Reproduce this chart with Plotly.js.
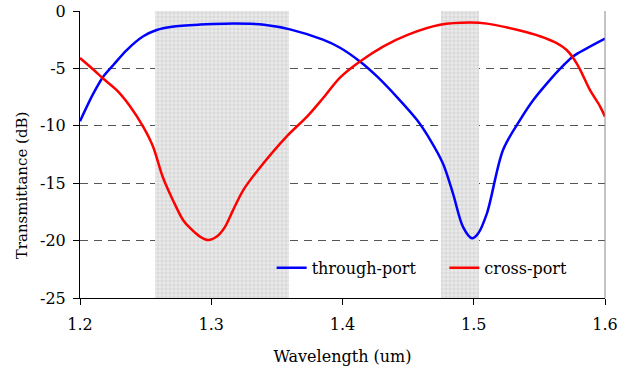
<!DOCTYPE html>
<html>
<head>
<meta charset="utf-8">
<script src="https://cdn.plot.ly/plotly-3.0.1.min.js"></script>
<style>html,body{margin:0;padding:0;background:#fff;}#chart{width:635px;height:369px;}</style>
</head>
<body>
<div id="chart"></div>
<script>
// through-port (blue)
const throughX = [1.2000, 1.2101, 1.2178, 1.2254, 1.2356, 1.2482, 1.2584, 1.2701, 1.2914, 1.3100, 1.3300, 1.3402, 1.3600, 1.3851, 1.3981, 1.4133, 1.4263, 1.4415, 1.4568, 1.4667, 1.4766, 1.4842, 1.4918, 1.4987, 1.5032, 1.5101, 1.5223, 1.5352, 1.5454, 1.5581, 1.5657, 1.5758, 1.5861, 1.6000];
const throughY = [-9.6, -7.2, -5.7, -4.7, -3.4, -2.2, -1.65, -1.37, -1.18, -1.1, -1.12, -1.2, -1.6, -2.5, -3.2, -4.4, -5.7, -7.5, -9.5, -11.2, -13.3, -15.9, -18.8, -19.8, -19.4, -17.6, -12.1, -9.5, -7.75, -6.0, -5.05, -3.95, -3.25, -2.4];
// cross-port (red)
const crossX = [1.2000, 1.2101, 1.2178, 1.2280, 1.2381, 1.2482, 1.2556, 1.2632, 1.2709, 1.2785, 1.2838, 1.2914, 1.2978, 1.3042, 1.3105, 1.3168, 1.3244, 1.3346, 1.3577, 1.3730, 1.3851, 1.3981, 1.4133, 1.4309, 1.4491, 1.4743, 1.4971, 1.5101, 1.5352, 1.5505, 1.5632, 1.5708, 1.5758, 1.5810, 1.5886, 1.5962, 1.6000];
const crossY = [-4.1, -5.1, -5.9, -6.9, -8.3, -10.1, -11.8, -14.5, -16.5, -18.2, -18.9, -19.65, -19.95, -19.65, -18.8, -17.3, -15.6, -14.0, -10.9, -9.2, -7.6, -5.8, -4.4, -3.1, -2.1, -1.2, -1.0, -1.1, -1.7, -2.2, -2.8, -3.4, -4.1, -5.1, -6.9, -8.3, -9.2];
// shaded bands
const bandStart = [1.257, 1.475];
const bandEnd = [1.359, 1.504];
// ticks
const xTicks = [1.2, 1.3, 1.4, 1.5, 1.6];
const xTickText = ['1.2', '1.3', '1.4', '1.5', '1.6'];
const yTicks = [0, -5, -10, -15, -20, -25];
const yTickText = ['0', '-5', '-10', '-15', '-20', '-25'];

const bandCenters = bandStart.map((s, i) => (s + bandEnd[i]) / 2);
const bandWidths = bandStart.map((s, i) => bandEnd[i] - s);

const mkFont = (s) => ({family: 'DejaVu Serif', size: s || 16, color: '#000'});

const traces = [
  {
    type: 'bar', x: bandCenters, y: bandCenters.map(() => 25), base: bandCenters.map(() => -25),
    width: bandWidths, showlegend: false, hoverinfo: 'skip',
    marker: {color: '#e6e6e6', line: {width: 0},
      pattern: {shape: '+', size: 4, solidity: 0.2, fgcolor: '#c4c4c4', bgcolor: '#eaeaea'}}
  },
  {
    type: 'scatter', mode: 'lines', name: 'through-port', x: throughX, y: throughY, legend: 'legend',
    line: {color: '#0000ff', width: 2.5, shape: 'spline', smoothing: 0.9}
  },
  {
    type: 'scatter', mode: 'lines', name: 'cross-port', x: crossX, y: crossY, legend: 'legend2',
    line: {color: '#ff0000', width: 2.5, shape: 'spline', smoothing: 0.9}
  }
];

const legendBase = {
  orientation: 'h', xanchor: 'left', yanchor: 'middle', y: 0.105,
  bgcolor: 'rgba(0,0,0,0)', borderwidth: 0
};

const layout = {
  width: 635, height: 369,
  margin: {l: 80, r: 30, t: 11, b: 71, pad: 0},
  paper_bgcolor: '#fff', plot_bgcolor: '#fff',
  font: mkFont(),
  showlegend: true,
  bargap: 0,
  legend: Object.assign({}, legendBase, {x: 0.365, font: mkFont()}),
  legend2: Object.assign({}, legendBase, {x: 0.694, font: mkFont()}),
  xaxis: {
    range: [1.2, 1.6], tickvals: xTicks, ticktext: xTickText,
    showgrid: false, zeroline: false,
    showline: true, linecolor: '#000', linewidth: 1,
    ticks: 'outside', ticklen: 6, tickcolor: '#000', tickfont: mkFont(),
    ticklabelstandoff: 6,
    title: {text: 'Wavelength (um)', font: mkFont(), standoff: 17}
  },
  yaxis: {
    range: [-25, 0], tickvals: yTicks, ticktext: yTickText,
    showgrid: true, gridcolor: '#555', griddash: '8px,6px', gridwidth: 1,
    zeroline: false,
    showline: true, linecolor: '#000', linewidth: 1,
    ticks: 'outside', ticklen: 6, tickcolor: '#000', tickfont: mkFont(),
    ticklabelstandoff: 4
  },
  annotations: [
    {text: 'Transmittance (dB)', xref: 'paper', yref: 'paper',
     x: -0.11, y: 0.394, xanchor: 'center', yanchor: 'middle',
     textangle: -90, showarrow: false, font: mkFont(15)}
  ],
  shapes: [
    {type: 'line', xref: 'paper', yref: 'paper', x0: 1, x1: 1, y0: 0, y1: 1,
     line: {color: '#888', width: 1}}
  ]
};

Plotly.newPlot('chart', traces, layout, {displayModeBar: false, staticPlot: true});
</script>
</body>
</html>
